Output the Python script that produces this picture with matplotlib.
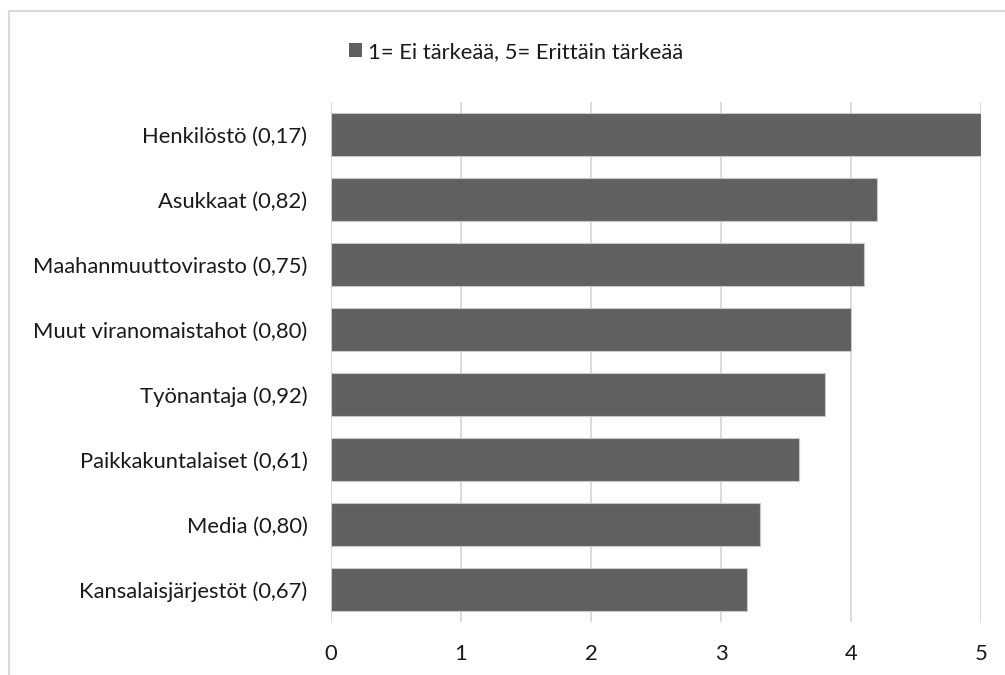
import matplotlib
matplotlib.use("Agg")
import matplotlib.pyplot as plt
from matplotlib.lines import Line2D
from matplotlib.patches import Patch

categories = [
    "Henkilöstö (0,17)",
    "Asukkaat (0,82)",
    "Maahanmuuttovirasto (0,75)",
    "Muut viranomaistahot (0,80)",
    "Työnantaja (0,92)",
    "Paikkakuntalaiset (0,61)",
    "Media (0,80)",
    "Kansalaisjärjestöt (0,67)",
]
values = [5.0, 4.2, 4.1, 4.0, 3.8, 3.6, 3.3, 3.2]
xticks = [0, 1, 2, 3, 4, 5]
legend_label = "1= Ei tärkeää, 5= Erittäin tärkeää"

plt.rcParams["font.family"] = ["Lato", "DejaVu Sans"]

W, H = 1005, 675
FS = 15.8
fig = plt.figure(figsize=(W / 100, H / 100), dpi=100)
ax = fig.add_axes([331 / W, 1 - 622 / H, 650 / W, 520 / H])

bar_color = "#606060"
ypos = list(range(len(categories)))
ax.barh(ypos, values, height=0.66, color=bar_color, edgecolor="#c8c8c8",
        linewidth=0.8, zorder=3)
ax.set_ylim(len(categories) - 0.5, -0.5)
ax.set_xlim(0, 5)
ax.set_yticks(ypos)
ax.set_yticklabels(categories, fontsize=FS, color="#1a1a1a")
ax.set_xticks(xticks)
ax.set_xticklabels([str(t) for t in xticks], fontsize=FS, color="#1a1a1a")
ax.tick_params(axis="both", length=0)
ax.tick_params(axis="y", pad=17)
ax.tick_params(axis="x", pad=16)
for s in ax.spines.values():
    s.set_visible(False)
ax.grid(axis="x", color="#d9d9d9", linewidth=1.3, zorder=0)
ax.set_axisbelow(True)

# legend above the plot area
fig.legend(handles=[Patch(facecolor=bar_color, edgecolor="none")],
           labels=[legend_label], loc="center",
           bbox_to_anchor=(516 / W, 1 - 52 / H), frameon=False,
           fontsize=FS, handlelength=0.6, handleheight=0.6,
           handletextpad=0.25, labelcolor="#1a1a1a")

# chart frame (left and top edges)
fig.add_artist(Line2D([9 / W, 9 / W], [0, 1 - 11 / H], transform=fig.transFigure,
                      color="#d9d9d9", linewidth=1.5))
fig.add_artist(Line2D([9 / W, 1], [1 - 11 / H, 1 - 11 / H], transform=fig.transFigure,
                      color="#d9d9d9", linewidth=1.5))

fig.savefig("out.png", dpi=100, facecolor="white")
